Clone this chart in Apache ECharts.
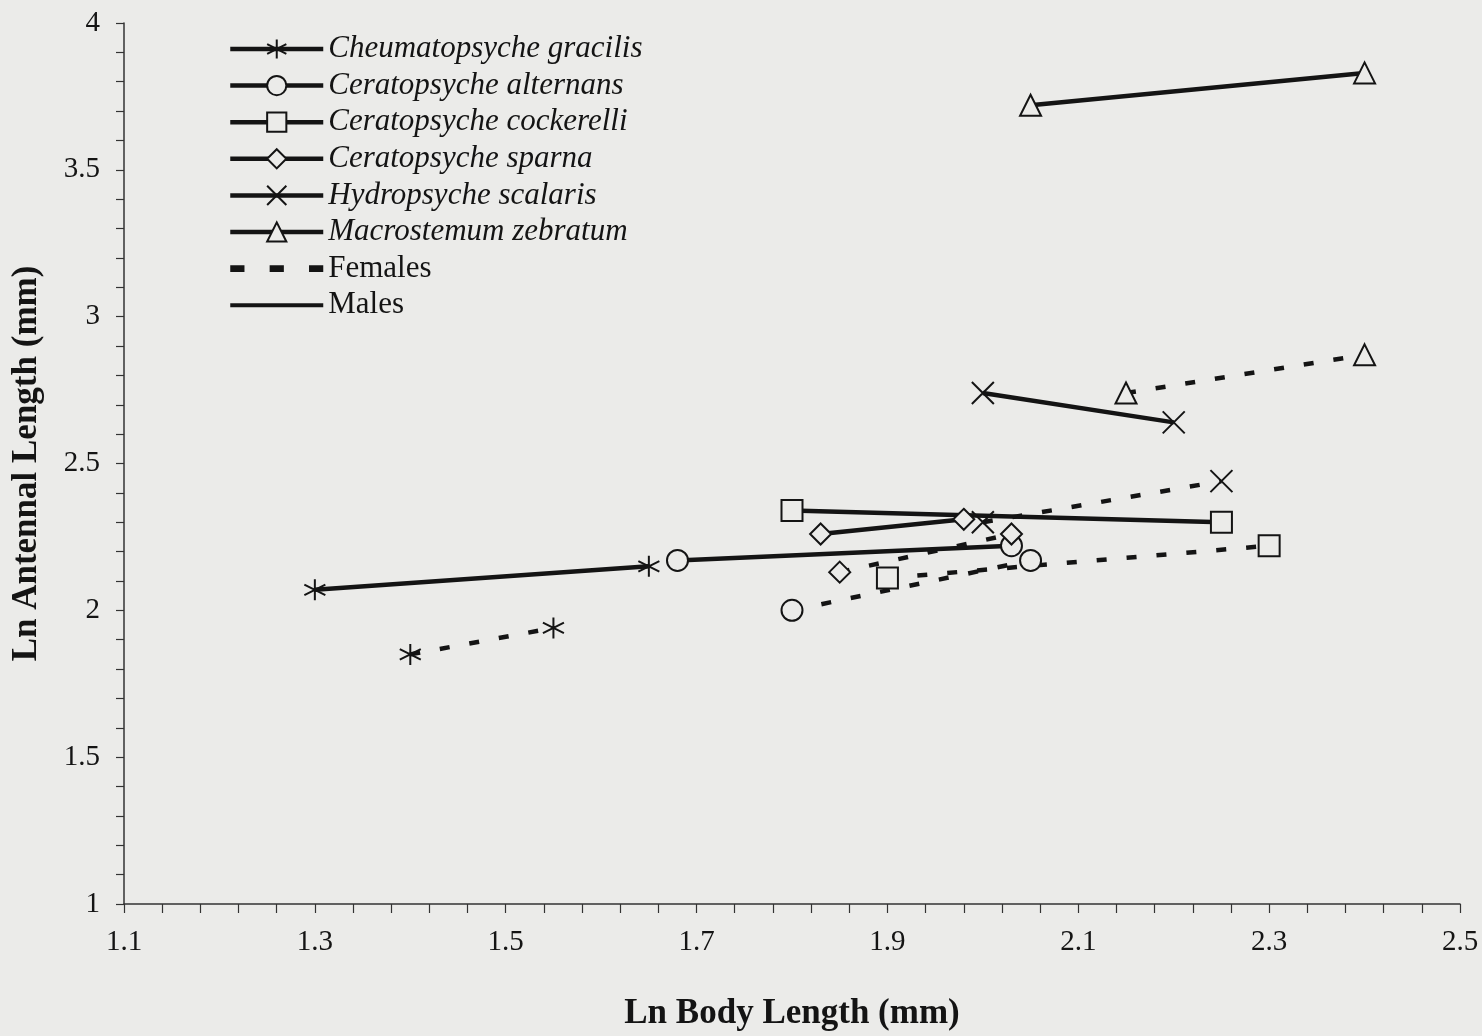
<!DOCTYPE html>
<html>
<head>
<meta charset="utf-8">
<script src="https://cdn.jsdelivr.net/npm/echarts@6/dist/echarts.min.js"></script>
<style>
html,body{margin:0;padding:0;background:#ebebe9;}
#chart{width:1482px;height:1036px;}
</style>
</head>
<body>
<div id="chart"></div>
<script>
// ---- data (Ln body length, Ln antennal length) ----
const speciesNames = ['Cheumatopsyche gracilis','Ceratopsyche alternans','Ceratopsyche cockerelli','Ceratopsyche sparna','Hydropsyche scalaris','Macrostemum zebratum'];
const gracilisMales   = [[1.30, 2.07], [1.65, 2.15]];
const gracilisFemales = [[1.40, 1.85], [1.55, 1.94]];
const alternansMales   = [[1.68, 2.17], [2.03, 2.22]];
const alternansFemales = [[1.80, 2.00], [2.05, 2.17]];
const cockerelliMales   = [[1.80, 2.34], [2.25, 2.30]];
const cockerelliFemales = [[1.90, 2.11], [2.30, 2.22]];
const sparnaMales   = [[1.83, 2.26], [1.98, 2.31]];
const sparnaFemales = [[1.85, 2.13], [2.03, 2.26]];
const scalarisMales   = [[2.00, 2.74], [2.20, 2.64]];
const scalarisFemales = [[2.00, 2.30], [2.25, 2.44]];
const zebratumMales   = [[2.05, 3.72], [2.40, 3.83]];
const zebratumFemales = [[2.15, 2.74], [2.40, 2.87]];
const xTickLabels = [1.1, 1.3, 1.5, 1.7, 1.9, 2.1, 2.3, 2.5];
const yTickLabels = [1, 1.5, 2, 2.5, 3, 3.5, 4];
const xTitle = 'Ln Body Length (mm)';
const yTitle = 'Ln Antennal Length (mm)';

// ---- styling ----
const BG = '#ebebe9';
const INK = '#141414';
const FONT = '"Liberation Serif", "DejaVu Serif", serif';
const SYM_ASTERISK = 'path://M0,-10L0,10M-8.7,-5L8.7,5M-8.7,5L8.7,-5';
const SYM_CROSS = 'path://M-10,-10L10,10M-10,10L10,-10';
const symbols = [SYM_ASTERISK, 'circle', 'rect', 'diamond', SYM_CROSS, 'triangle'];
const symbolSizes = [21, 21, 21, 21, 22, 21];
const malesData = [gracilisMales, alternansMales, cockerelliMales, sparnaMales, scalarisMales, zebratumMales];
const femalesData = [gracilisFemales, alternansFemales, cockerelliFemales, sparnaFemales, scalarisFemales, zebratumFemales];

// minor tick positions along x (every 0.04 starting at 1.1)
const xTickValues = [];
for (let k = 0; k <= 35; k++) xTickValues.push(+(1.1 + k * 0.04).toFixed(2));

const series = [];
speciesNames.forEach((name, i) => {
  series.push({
    name: name, type: 'line', data: malesData[i],
    symbol: symbols[i], symbolSize: symbolSizes[i], showAllSymbol: true,
    lineStyle: {color: INK, width: 4.5, type: 'solid'},
    itemStyle: {color: BG, borderColor: INK, borderWidth: 2},
    emphasis: {disabled: true}, z: 3
  });
});
speciesNames.forEach((name, i) => {
  series.push({
    name: name, type: 'line', data: femalesData[i],
    symbol: symbols[i], symbolSize: symbolSizes[i], showAllSymbol: true,
    lineStyle: {color: INK, width: 4.5, type: [10, 20]},
    itemStyle: {color: BG, borderColor: INK, borderWidth: 2},
    emphasis: {disabled: true}, z: 3
  });
});
series.push({name: 'Females', type: 'line', data: [], symbol: 'none',
  lineStyle: {color: INK, width: 4.5, type: [12, 20]}, itemStyle: {color: INK}});
series.push({name: 'Males', type: 'line', data: [], symbol: 'none',
  lineStyle: {color: INK, width: 3, type: 'solid'}, itemStyle: {color: INK}});

const ICON_DASHED = 'path://M0,0h13v6h-13zM36,0h13v6h-13zM72,0h13v6h-13z';
const ICON_SOLID = 'path://M0,0h90v4h-90z';
const legendData = speciesNames.map(n => ({name: n, textStyle: {fontStyle: 'italic'}}))
  .concat([{name: 'Females', icon: ICON_DASHED, itemStyle: {color: INK, borderWidth: 0}},
           {name: 'Males', icon: ICON_SOLID, itemStyle: {color: INK, borderWidth: 0}}]);

const chart = echarts.init(document.getElementById('chart'), null, {renderer: 'canvas'});
chart.setOption({
  backgroundColor: BG,
  animation: false,
  grid: {left: 124, right: 22, top: 23, bottom: 131, containLabel: false},
  legend: {
    data: legendData, orient: 'vertical', left: 223, top: 28,
    itemWidth: 93, itemHeight: 24, itemGap: 4.6,
    selectedMode: false,
    lineStyle: {width: 4.5},
    textStyle: {fontFamily: FONT, fontSize: 31, color: INK, lineHeight: 32},
    inactiveColor: INK
  },
  xAxis: {
    type: 'value', min: 1.1, max: 2.5,
    name: xTitle, nameLocation: 'middle', nameGap: 92,
    nameTextStyle: {fontFamily: FONT, fontSize: 35, fontWeight: 'bold', color: INK},
    axisLine: {show: true, lineStyle: {color: '#333', width: 1.5}},
    axisTick: {show: true, length: 9, lineStyle: {color: '#333', width: 1.2}, customValues: xTickValues},
    axisLabel: {customValues: xTickLabels, fontFamily: FONT, fontSize: 29, color: INK, margin: 24,
      formatter: v => (+v).toFixed(1)},
    splitLine: {show: false}
  },
  yAxis: {
    type: 'value', min: 1, max: 4, interval: 0.5,
    name: yTitle, nameLocation: 'middle', nameGap: 80, nameRotate: 90,
    nameTextStyle: {fontFamily: FONT, fontSize: 35, fontWeight: 'bold', color: INK},
    axisLine: {show: true, lineStyle: {color: '#333', width: 1.5}},
    axisTick: {show: true, length: 8, lineStyle: {color: '#333', width: 1.2}},
    minorTick: {show: true, splitNumber: 5, length: 8, lineStyle: {color: '#333', width: 1.2}},
    axisLabel: {fontFamily: FONT, fontSize: 29, color: INK, margin: 24,
      formatter: v => String(+v)},
    splitLine: {show: false}, minorSplitLine: {show: false}
  },
  series: series
});
</script>
</body>
</html>
